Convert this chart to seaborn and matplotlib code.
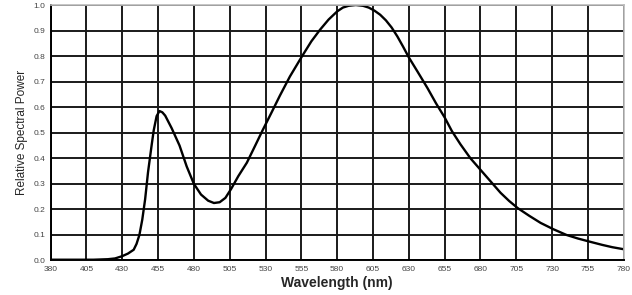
import pandas as pd
import seaborn as sns
import matplotlib.pyplot as plt

# wavelength (nm) and relative spectral power
wavelength = [380, 390, 400, 410, 420, 425, 430, 434, 438, 440, 442, 444, 446, 448, 450.5,
              452, 454, 456, 458, 460, 464.5, 470, 475, 480, 485, 490, 494, 498, 502,
              506, 511, 517, 523, 528, 534, 540, 547, 555, 562, 568, 574, 580, 584,
              588, 593, 598, 602, 606, 610, 614, 618, 622, 626, 630, 636, 643, 649,
              655, 660, 666, 673, 680, 687, 694, 700, 706, 714, 722, 731, 740, 748,
              756, 765, 772, 780]
power = [0.003, 0.003, 0.003, 0.003, 0.005, 0.008, 0.017, 0.027, 0.042, 0.065, 0.10, 0.16, 0.24, 0.345, 0.45,
         0.51, 0.565, 0.585, 0.58, 0.567, 0.518, 0.45, 0.368, 0.30, 0.258, 0.234, 0.225, 0.228, 0.245,
         0.28, 0.33, 0.383, 0.452, 0.51, 0.577, 0.645, 0.72, 0.795, 0.858, 0.903, 0.943, 0.975, 0.99,
         0.997, 1.0, 0.997, 0.99, 0.978, 0.962, 0.94, 0.912, 0.877, 0.837, 0.795, 0.74, 0.675, 0.615,
         0.56, 0.507, 0.455, 0.40, 0.355, 0.31, 0.265, 0.233, 0.205, 0.175, 0.147, 0.122, 0.10, 0.086,
         0.074, 0.061, 0.052, 0.044]

x_ticks = list(range(380, 781, 25))
y_ticks = [i / 10 for i in range(11)]

df = pd.DataFrame({"wavelength": wavelength, "power": power})

sns.set_style("white")
plt.rcParams['font.family'] = ['Liberation Sans', 'DejaVu Sans']

fig = plt.figure(figsize=(6.32, 2.95), dpi=100)
ax = fig.add_axes([0.080, 0.117, 0.907, 0.866])

sns.lineplot(data=df, x="wavelength", y="power", color="black", linewidth=1.7, ax=ax)

ax.set_xlim(380, 780)
ax.set_ylim(0, 1.0)
ax.set_xticks(x_ticks)
ax.set_yticks(y_ticks)
ax.set_xticklabels([str(t) for t in x_ticks])
ax.set_yticklabels(["%.1f" % t for t in y_ticks])
ax.grid(True, color="#1a1a1a", linewidth=1.4)
ax.set_axisbelow(True)

ax.tick_params(axis="both", labelsize=6, colors="#444444", length=2, width=0.8, pad=2)
ax.tick_params(axis="both", color="black")

for side in ["left", "bottom"]:
    ax.spines[side].set_color("black")
    ax.spines[side].set_linewidth(1.4)
for side in ["top", "right"]:
    ax.spines[side].set_color("#bbbbbb")
    ax.spines[side].set_linewidth(1.2)

ax.set_xlabel("Wavelength (nm)", fontsize=10, fontweight="bold", labelpad=2)
ax.set_ylabel("Relative Spectral Power", fontsize=8.5, labelpad=4)

fig.savefig("out.png", dpi=100)
